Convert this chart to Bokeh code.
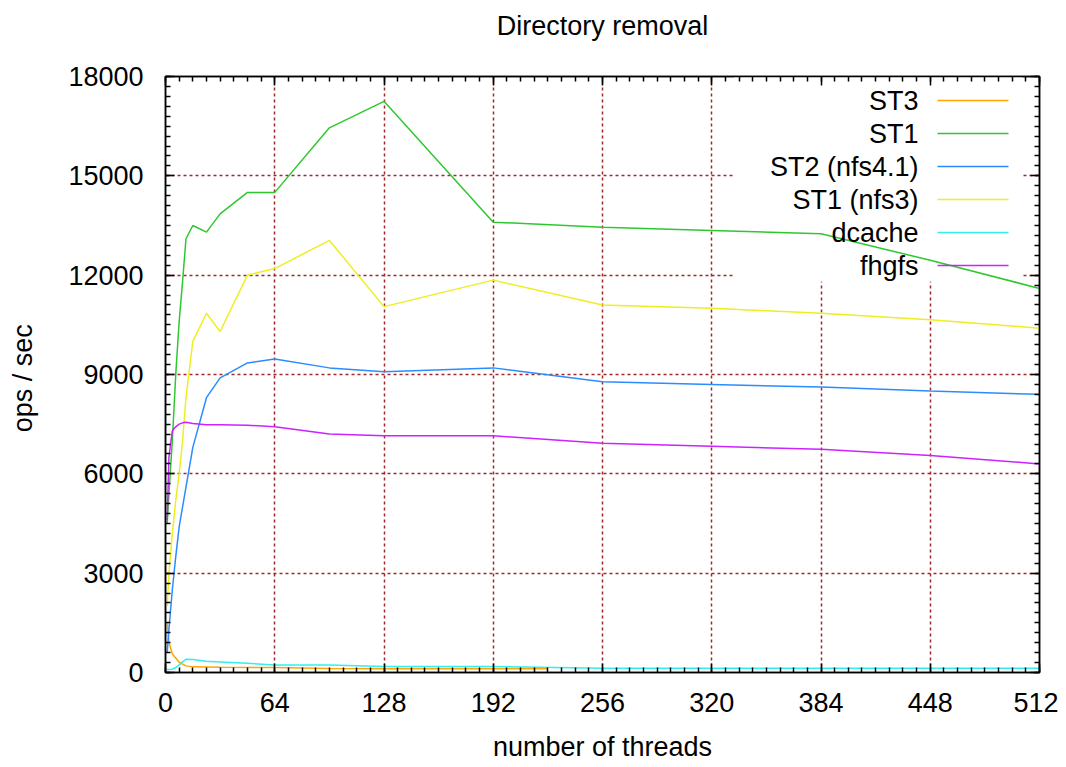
import numpy as np
from bokeh.plotting import figure
from bokeh.models import Range1d, FixedTicker, LinearAxis, Label, Arrow, BoxAnnotation
from bokeh.embed import file_html
from bokeh.resources import INLINE

# ---------------- data ----------------
threads = [1, 2, 4, 6, 8, 10, 12, 16, 24, 32, 48, 64, 96, 128, 192, 256, 320, 384, 448, 512]
st1 = [4500, 5400, 7000, 9000, 10600, 11800, 13100, 13500, 13300, 13850, 14500, 14500,
       16450, 17250, 13600, 13450, 13350, 13250, 12450, 11600]
st1_nfs3 = [2000, 3000, 4200, 5200, 6000, 7000, 8300, 10000, 10850, 10300, 12000, 12200,
            13050, 11050, 11850, 11100, 11000, 10850, 10650, 10400]
st2_nfs41 = [600, 1300, 2500, 3500, 4400, 5000, 5600, 6800, 8300, 8900, 9350, 9470,
             9200, 9080, 9200, 8780, 8700, 8620, 8500, 8400]
dcache = [80, 90, 100, 150, 230, 320, 400, 390, 340, 320, 280, 230,
          230, 180, 180, 130, 130, 130, 130, 130]
fhgfs = [4600, 6500, 7300, 7420, 7500, 7540, 7560, 7520, 7480, 7480, 7470, 7420,
         7200, 7150, 7150, 6920, 6830, 6740, 6550, 6300]
st3_threads = [1, 2, 4, 8, 12, 16, 32, 64, 96, 128, 192, 224]
st3 = [1500, 920, 560, 310, 200, 170, 160, 150, 120, 110, 110, 110]

x_ticks = [0, 64, 128, 192, 256, 320, 384, 448, 512]
y_ticks = [0, 3000, 6000, 9000, 12000, 15000, 18000]

title_text = "Directory removal"
series_names = ["ST3", "ST1", "ST2 (nfs4.1)", "ST1 (nfs3)", "dcache", "fhgfs"]
series_x = [st3_threads, threads, threads, threads, threads, threads]
series_y = [st3, st1, st2_nfs41, st1_nfs3, dcache, fhgfs]
series_colors = ["#ffa500", "#2ec82e", "#2b8cff", "#eeee22", "#33eeee", "#cc22ff"]

# ---------------- figure ----------------
FONT = "Liberation Sans"
FS = "27px"
FRAME_H = 596

p = figure(width=1058, height=765,
           x_range=Range1d(0, 512), y_range=Range1d(0, 18000),
           output_backend="svg", toolbar_location=None,
           min_border_left=165, min_border_right=19,
           min_border_top=76, min_border_bottom=93)

p.background_fill_color = "white"
p.border_fill_color = "white"
p.outline_line_color = "black"
p.outline_line_width = 1.5

x_minor = list(np.arange(0, 513, 8))
y_minor = list(np.arange(0, 18001, 300))
xt = FixedTicker(ticks=x_ticks, minor_ticks=x_minor)
yt = FixedTicker(ticks=y_ticks, minor_ticks=y_minor)

def style_axis(ax):
    ax.axis_line_color = "black"
    ax.axis_line_width = 1.5
    ax.major_tick_in = 9
    ax.major_tick_out = 0
    ax.minor_tick_in = 5
    ax.minor_tick_out = 0
    ax.major_tick_line_color = "black"
    ax.minor_tick_line_color = "black"
    ax.major_tick_line_width = 1.5
    ax.minor_tick_line_width = 1.5
    ax.major_label_text_font = FONT
    ax.major_label_text_font_size = FS
    ax.major_label_text_color = "black"
    ax.axis_label_text_font = FONT
    ax.axis_label_text_font_size = FS
    ax.axis_label_text_font_style = "normal"
    ax.axis_label_text_color = "black"

p.xaxis.ticker = xt
p.yaxis.ticker = yt
style_axis(p.xaxis[0])
style_axis(p.yaxis[0])
p.xaxis.axis_label = "number of threads"
p.yaxis.axis_label = "ops  / sec"
p.xaxis.major_label_standoff = 20
p.yaxis.major_label_standoff = 22
p.xaxis.axis_label_standoff = 17
p.yaxis.axis_label_standoff = 27

# mirrored tick marks on top and right; the top one carries the chart title
top_ax = LinearAxis(ticker=FixedTicker(ticks=x_ticks, minor_ticks=x_minor),
                    major_label_overrides={t: "" for t in x_ticks})
right_ax = LinearAxis(ticker=FixedTicker(ticks=y_ticks, minor_ticks=y_minor),
                      major_label_overrides={t: "" for t in y_ticks})
for ax in (top_ax, right_ax):
    style_axis(ax)
    ax.major_label_standoff = 0
top_ax.axis_label = title_text
top_ax.axis_label_standoff = 36
p.add_layout(top_ax, "above")
p.add_layout(right_ax, "right")

# grid
p.xgrid.ticker = FixedTicker(ticks=x_ticks[1:-1])
p.ygrid.ticker = FixedTicker(ticks=y_ticks[1:-1])
for g in (p.xgrid[0], p.ygrid[0]):
    g.grid_line_color = "#a0282a"
    g.grid_line_width = 1.5
    g.grid_line_dash = "3 3"

# legend background hides the grid only (as in gnuplot)
p.add_layout(BoxAnnotation(left=333, right=502, bottom=11800, top=18000,
                           fill_color="white", fill_alpha=1.0, line_color=None,
                           level="underlay"))

# data lines
for xs, ys, c in zip(series_x, series_y, series_colors):
    p.line(xs, ys, line_color=c, line_width=1.5)

# gnuplot-style legend: text right-aligned, sample line to its right
row_top = FRAME_H - 24
row_step = 33
for i, (name, c) in enumerate(zip(series_names, series_colors)):
    yy = row_top - i * row_step
    p.add_layout(Label(x=753, y=yy, x_units="screen", y_units="screen", text=name,
                       text_align="right", text_baseline="middle",
                       text_font=FONT, text_font_size=FS, text_color="black"))
    p.add_layout(Arrow(end=None, x_start=772, y_start=yy, x_end=843, y_end=yy,
                       start_units="screen", end_units="screen",
                       line_color=c, line_width=1.5))

open("out.html", "w").write(file_html(p, INLINE))
